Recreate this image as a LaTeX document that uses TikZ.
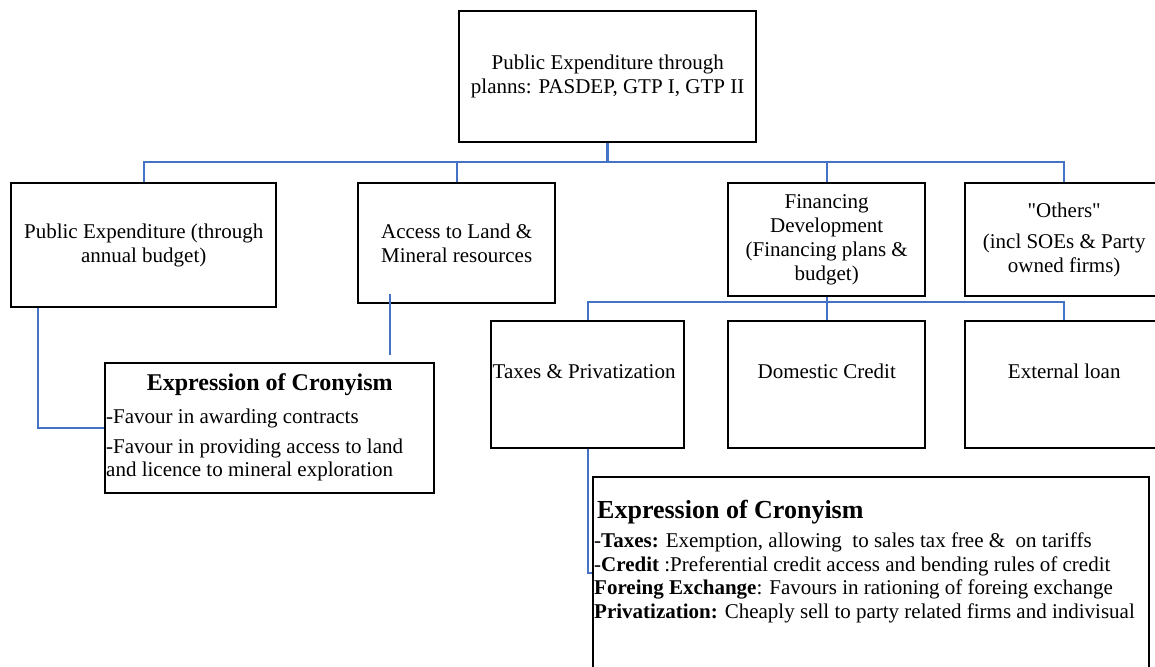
\documentclass[tikz,border=0pt]{standalone}
\usepackage{fontspec}
\setmainfont{Liberation Serif}
\usetikzlibrary{calc}
\definecolor{conncol}{RGB}{68,114,196}
\begin{document}
\begin{tikzpicture}[x=1pt,y=-1pt,
  box/.style={draw=black, line width=2.4pt, anchor=north west, align=center,
    font=\fontsize{21}{24}\selectfont, inner sep=2pt},
  txt/.style={font=\fontsize{21}{24}\selectfont, inner sep=0pt, align=center},
  bodytxt/.style={inner sep=0pt, align=left, anchor=north west},
  headtxt/.style={inner sep=0pt, font=\fontsize{24}{28}\selectfont\bfseries},
  wire/.style={draw=conncol, line width=2pt}]
\clip (0,0) rectangle (1155,666);
\fill[white] (0,0) rectangle (1155,666);
% top level
\node[box, minimum width=297pt, minimum height=131pt] (top) at (458,10)
  {Public Expenditure through\\planns: PASDEP, GTP I, GTP II};
% second level
\node[box, minimum width=265pt, minimum height=124pt] (pe) at (10,182)
  {Public Expenditure (through\\annual budget)};
\node[box, minimum width=197pt, minimum height=120pt] (al) at (357,182)
  {Access to Land \&\\Mineral resources};
\node[box, minimum width=197pt, minimum height=113pt] (fd) at (727,182)
  {Financing\\Development\\(Financing plans \&\\budget)};
\node[box, minimum width=198pt, minimum height=113pt] (ot) at (964,182)
  {\textquotedbl Others\textquotedbl\\[7pt](incl SOEs \& Party\\owned firms)};
% third level
\node[box, minimum width=193pt, minimum height=127pt] (tp) at (490,320) {};
\node[box, minimum width=197pt, minimum height=127pt] (dc) at (727,320) {};
\node[box, minimum width=198pt, minimum height=127pt] (el) at (964,320) {};
\node[txt, anchor=west] (tpt) at ([xshift=2.5pt,yshift=13pt]tp.west) {Taxes \& Privatization};
\node[txt] (dct) at ([yshift=13pt]dc.center) {Domestic Credit};
\node[txt] (elt) at ([yshift=13pt]el.center) {External loan};
% cronyism boxes
\node[box, minimum width=329pt, minimum height=130pt] (c1) at (104,362) {};
\node[headtxt] (c1h) at ([yshift=-23pt]c1.north) {Expression of Cronyism};
\node[bodytxt, font=\fontsize{21}{22.5}\selectfont] (c1b) at ([xshift=2pt,yshift=-47pt]c1.north west)
  {-Favour in awarding contracts\\[7.5pt]-Favour in providing access to land\\and licence to mineral exploration};
\node[box, minimum width=556pt, minimum height=220pt] (c2) at (592,476) {};
\node[headtxt, font=\fontsize{26}{30}\selectfont\bfseries, anchor=west] (c2h) at ([xshift=5pt,yshift=-36pt]c2.north west) {Expression of Cronyism};
\node[bodytxt, font=\fontsize{21}{23.5}\selectfont] (c2b) at ([xshift=2pt,yshift=-57pt]c2.north west)
  {-\textbf{Taxes:} Exemption, allowing\ \ to sales tax free \&\ \ on tariffs\\
   -\textbf{Credit} :Preferential credit access and bending rules of credit\\
   \textbf{Foreing Exchange}: Favours in rationing of foreing exchange\\
   \textbf{Privatization:} Cheaply sell to party related firms and indivisual};
% connectors
\coordinate (busy) at (0,162);
\draw[wire, line width=2.8pt] (top.south) |- (al.north |- busy);
\draw[wire] (pe.north) |- (busy -| ot.north) -- (ot.north);
\draw[wire] (al.north) -- (al.north |- busy);
\draw[wire] (fd.north) -- (fd.north |- busy);
\coordinate (lowy) at (0,302);
\draw[wire] (fd.south) -- (dc.north);
\draw[wire] (tp.north) |- (lowy -| el.north) -- (el.north);
\draw[wire] ([xshift=28pt]pe.south west) |- (c1.west);
\draw[wire] ([xshift=33pt,yshift=10pt]al.south west) -- ([xshift=286pt,yshift=7pt]c1.north west);
\draw[wire] (tp.south) |- ([yshift=-97pt]c2.north west);
\end{tikzpicture}
\end{document}
